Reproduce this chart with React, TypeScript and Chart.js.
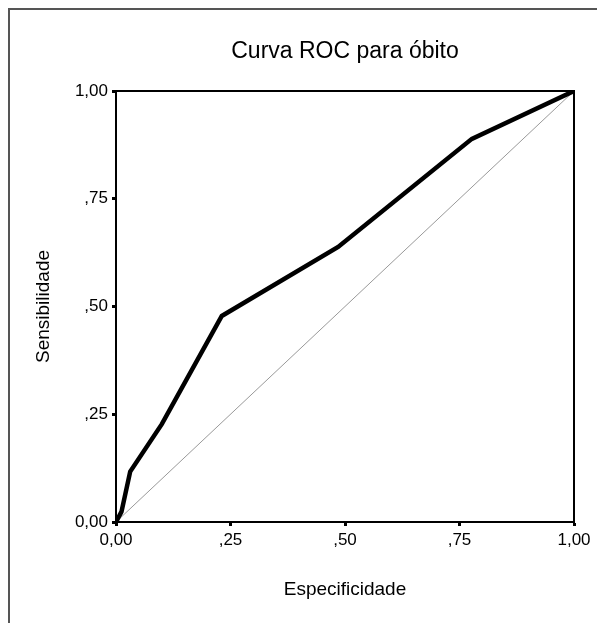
import React, { useEffect, useRef } from "react";
import { Chart, registerables } from "chart.js";

Chart.register(...registerables);

const titleText = "Curva ROC para óbito";
const xTitle = "Especificidade";
const yTitle = "Sensibilidade";
const tickValues = [0, 0.25, 0.5, 0.75, 1];
const tickLabels = ["0,00", ",25", ",50", ",75", "1,00"];
const rocX = [0, 0.012, 0.031, 0.1, 0.231, 0.485, 0.777, 1];
const rocY = [0, 0.024, 0.117, 0.227, 0.478, 0.638, 0.889, 1];
const refX = [0, 1];
const refY = [0, 1];

const fontFamily = "'Liberation Sans', Arial, sans-serif";

const labelFor = (v: number) => {
  const i = tickValues.findIndex((t) => Math.abs(t - v) < 1e-6);
  return i >= 0 ? tickLabels[i] : "";
};

const frameRect = {
  id: "frameRect",
  afterDatasetsDraw(chart: any) {
    const { ctx, chartArea } = chart;
    ctx.save();
    ctx.strokeStyle = "#000";
    ctx.lineWidth = 2;
    ctx.strokeRect(chartArea.left, chartArea.top, chartArea.right - chartArea.left, chartArea.bottom - chartArea.top);
    ctx.restore();
  },
};

export default function App() {
  const ref = useRef<HTMLCanvasElement>(null);
  useEffect(() => {
    if (!ref.current) return;
    const axisCommon = {
      type: "linear" as const,
      min: 0,
      max: 1,
      afterBuildTicks: (scale: any) => {
        scale.ticks = tickValues.map((v) => ({ value: v }));
      },
      ticks: {
        callback: (v: any) => labelFor(Number(v)),
        color: "#000",
        font: { family: fontFamily, size: 17 },
        padding: 4,
        maxRotation: 0,
        autoSkip: false,
      },
      grid: {
        drawOnChartArea: false,
        drawTicks: true,
        tickLength: 4,
        tickWidth: 3,
        tickColor: "#000",
      },
      border: { display: true, color: "#000", width: 2 },
    };
    const chart = new Chart(ref.current, {
      type: "scatter",
      data: {
        datasets: [
          {
            data: rocX.map((x, i) => ({ x, y: rocY[i] })),
            showLine: true,
            borderColor: "#000",
            borderWidth: 4.5,
            pointRadius: 0,
            borderJoinStyle: "miter",
            order: 0,
          },
          {
            data: refX.map((x, i) => ({ x, y: refY[i] })),
            showLine: true,
            borderColor: "#999",
            borderWidth: 1,
            pointRadius: 0,
            order: 1,
          },
        ],
      },
      options: {
        responsive: false,
        animation: false,
        layout: { padding: { left: 0, right: 31, top: 0, bottom: 0 } },
        plugins: {
          legend: { display: false },
          tooltip: { enabled: false },
          title: {
            display: true,
            text: titleText,
            fullSize: false,
            color: "#000",
            font: { family: fontFamily, size: 23, weight: "normal" },
            padding: { top: 30.2, bottom: 25.2 },
          },
        },
        scales: {
          x: {
            ...axisCommon,
            afterFit: (scale: any) => {
              scale.height = 101;
            },
            title: {
              display: true,
              text: xTitle,
              color: "#000",
              font: { family: fontFamily, size: 19 },
              padding: { top: 0, bottom: 21.6 },
            },
          },
          y: {
            ...axisCommon,
            afterFit: (scale: any) => {
              scale.width = 108;
            },
            title: {
              display: true,
              text: yTitle,
              color: "#000",
              font: { family: fontFamily, size: 19 },
              padding: { top: 24.6, bottom: 0 },
            },
          },
        },
      } as any,
      plugins: [frameRect],
    });
    return () => chart.destroy();
  }, []);
  return (
    <div style={{ position: "relative", width: 597, height: 615 }}>
      <canvas ref={ref} width={597} height={615} style={{ display: "block" }} />
      <div
        style={{
          position: "absolute",
          left: 0,
          top: 0,
          width: 597,
          height: 615,
          borderTop: "2px solid #555",
          borderLeft: "2px solid #555",
          boxSizing: "border-box",
          pointerEvents: "none",
        }}
      />
    </div>
  );
}
